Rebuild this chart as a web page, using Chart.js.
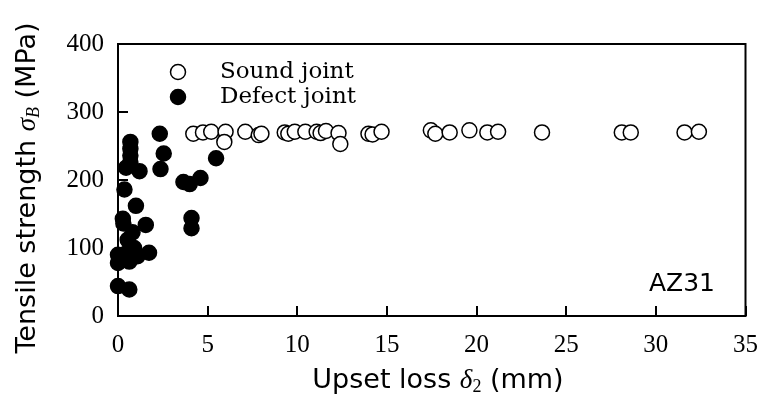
<!DOCTYPE html>
<html>
<head>
<meta charset="utf-8">
<script src="https://cdn.jsdelivr.net/npm/chart.js@4.4.1/dist/chart.umd.min.js"></script>
<style>
  html, body { margin: 0; padding: 0; background: #fff; }
  #wrap { width: 772px; height: 402px; }
</style>
</head>
<body>
<div id="wrap"><canvas id="c" width="772" height="402"></canvas></div>
<script>
// Upset loss δ2 (mm) and tensile strength σB (MPa) for AZ31 joints
const soundX = [4.2, 4.74, 5.2, 6.0, 5.93, 7.1, 7.85, 8.0, 9.3, 9.5, 9.86, 10.45, 11.08, 11.3, 11.6, 12.3, 12.4,
                13.97, 14.2, 14.7, 17.45, 17.7, 18.5, 19.6, 20.6, 21.2, 23.65, 28.1, 28.6, 31.6, 32.4];
const soundY = [268, 270, 271, 271, 256, 271, 266, 268, 270, 268, 271, 271, 271, 269, 272, 269, 253,
                268, 267, 271, 273, 268, 270, 273, 270, 271, 270, 270, 270, 270, 271];

const defectX = [2.33, 0.69, 0.69, 0.69, 0.69, 0.45, 1.2, 2.55, 2.37, 3.65, 4.0, 4.6, 5.47, 4.1, 4.1,
                 0.36, 1.0, 0.27, 0.3, 1.55, 0.81, 0.54, 0.9, 0.45, 0.0, 0.0, 0.63, 1.09, 1.73, 0.0, 0.63];
const defectY = [268, 256, 246, 236, 226, 218, 213, 239, 216, 197, 194, 203, 232, 144, 129,
                 186, 162, 143, 136, 134, 123, 112, 100, 92, 90, 78, 80, 88, 93, 44, 39];

const xTicks = [0, 5, 10, 15, 20, 25, 30, 35];
const yTicks = [0, 100, 200, 300, 400];

const seriesNames = ['Sound joint', 'Defect joint'];
const materialLabel = 'AZ31';

const toPoints = (xs, ys) => xs.map((x, i) => ({ x: x, y: ys[i] }));

const SERIF = '"Liberation Serif", "DejaVu Serif", serif';
const WIDE_SERIF = '"DejaVu Serif", serif';
const SANS = '"DejaVu Sans", "Liberation Sans", sans-serif';

// draws a run of text pieces with their own fonts and baseline shifts, centred on (cx, cy)
function drawRich(ctx, parts, cx, cy, angle) {
  ctx.save();
  ctx.translate(cx, cy);
  if (angle) ctx.rotate(angle);
  ctx.textBaseline = 'middle';
  ctx.textAlign = 'left';
  let total = 0;
  parts.forEach(p => { ctx.font = p.font; p.w = ctx.measureText(p.text).width; total += p.w; });
  let x = -total / 2;
  parts.forEach(p => {
    ctx.font = p.font;
    ctx.fillStyle = '#000';
    ctx.fillText(p.text, x, p.dy || 0);
    x += p.w;
  });
  ctx.restore();
}

const framePlugin = {
  id: 'frame',
  afterDraw(chart) {
    const { ctx, chartArea: a, scales } = chart;
    ctx.save();
    ctx.strokeStyle = '#000';
    ctx.lineWidth = 2;
    ctx.strokeRect(a.left, a.top, a.right - a.left, a.bottom - a.top);
    // inward tick marks
    const tl = 10;
    ctx.beginPath();
    xTicks.forEach(v => {
      const px = Math.round(scales.x.getPixelForValue(v));
      ctx.moveTo(px, a.bottom);
      ctx.lineTo(px, a.bottom - tl);
    });
    yTicks.forEach(v => {
      const py = Math.round(scales.y.getPixelForValue(v));
      ctx.moveTo(a.left, py);
      ctx.lineTo(a.left + tl, py);
    });
    ctx.stroke();

    // legend
    const ds = chart.data.datasets;
    const lx = a.left + 60, ly0 = 72, dyL = 25;
    ds.forEach((d, i) => {
      const y = ly0 + i * dyL;
      ctx.beginPath();
      ctx.arc(lx, y, 7.5, 0, Math.PI * 2);
      ctx.fillStyle = d.backgroundColor;
      ctx.fill();
      ctx.lineWidth = 1.5;
      ctx.strokeStyle = d.borderColor;
      ctx.stroke();
      ctx.fillStyle = '#000';
      ctx.font = '23px ' + WIDE_SERIF;
      ctx.textBaseline = 'middle';
      ctx.textAlign = 'left';
      ctx.fillText(d.label, lx + 42, y);
    });

    // material label
    ctx.font = '25px ' + SANS;
    ctx.textAlign = 'center';
    ctx.textBaseline = 'middle';
    ctx.fillStyle = '#000';
    ctx.fillText(materialLabel, 682, 284);

    // axis titles
    drawRich(ctx, [
      { text: 'Upset loss ', font: '27px ' + SANS },
      { text: 'δ', font: 'italic 27px ' + SERIF },
      { text: '2', font: '18px ' + SERIF, dy: 6 },
      { text: ' (mm)', font: '27px ' + SANS }
    ], 438, 381, 0);
    drawRich(ctx, [
      { text: 'Tensile strength ', font: '27px ' + SANS },
      { text: 'σ', font: 'italic 27px ' + SERIF },
      { text: 'B', font: 'italic 18px ' + SERIF, dy: 6 },
      { text: ' (MPa)', font: '27px ' + SANS }
    ], 28, 188, -Math.PI / 2);
    ctx.restore();
  }
};

new Chart(document.getElementById('c'), {
  type: 'scatter',
  data: {
    datasets: [
      {
        label: seriesNames[0],
        data: toPoints(soundX, soundY),
        backgroundColor: '#fff',
        borderColor: '#000',
        borderWidth: 1.5,
        pointRadius: 7.5,
        pointHoverRadius: 7.5
      },
      {
        label: seriesNames[1],
        data: toPoints(defectX, defectY),
        backgroundColor: '#000',
        borderColor: '#000',
        borderWidth: 1.5,
        pointRadius: 7.5,
        pointHoverRadius: 7.5
      }
    ]
  },
  options: {
    responsive: false,
    animation: false,
    clip: false,
    layout: { padding: { left: 0, right: 15, top: 44, bottom: 0 } },
    plugins: { legend: { display: false }, tooltip: { enabled: false } },
    scales: {
      x: {
        type: 'linear',
        min: 0, max: 35,
        afterBuildTicks(s) { s.ticks = xTicks.map(v => ({ value: v })); },
        afterFit(s) { s.height = 86; },
        grid: { display: false, drawTicks: false },
        border: { display: false },
        ticks: { color: '#000', font: { family: SERIF, size: 25 }, padding: 14, maxRotation: 0 }
      },
      y: {
        type: 'linear',
        min: 0, max: 400,
        afterBuildTicks(s) { s.ticks = yTicks.map(v => ({ value: v })); },
        afterFit(s) { s.width = 118; },
        grid: { display: false, drawTicks: false },
        border: { display: false },
        ticks: { color: '#000', font: { family: SERIF, size: 25 }, padding: 14 }
      }
    }
  },
  plugins: [framePlugin]
});
</script>
</body>
</html>
